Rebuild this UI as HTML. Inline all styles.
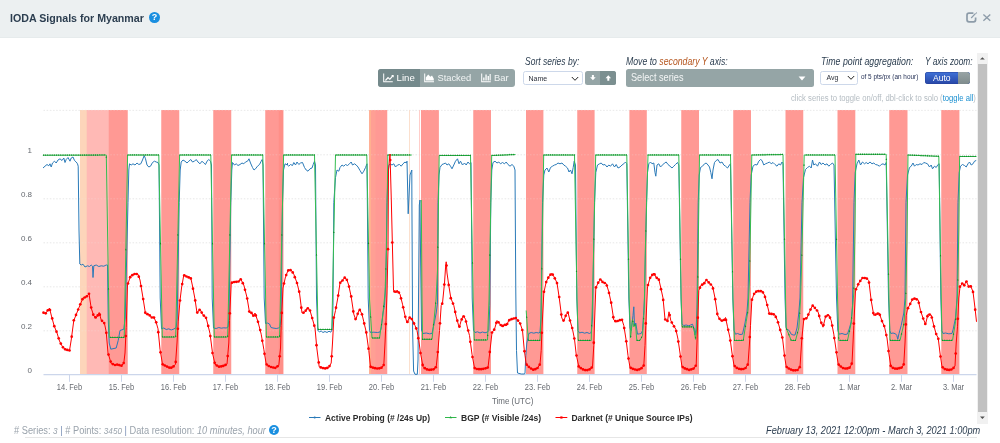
<!DOCTYPE html>
<html lang="en">
<head>
<meta charset="utf-8">
<title>IODA Signals for Myanmar</title>
<style>
html,body{margin:0;padding:0;}
body{width:1000px;height:443px;overflow:hidden;background:#fff;position:relative;font-family:"Liberation Sans",sans-serif;color:#2c3e50;}
.abs{position:absolute;white-space:nowrap;transform-origin:0 0;}
.hdr{position:absolute;left:0;top:0;width:1000px;height:37px;background:#ecf0f1;border-bottom:1px solid #e6ebec;box-sizing:content-box;}
.title{left:9.75px;top:11.7px;font-size:10.8px;font-weight:bold;line-height:13px;color:#2c3e50;}
.help{position:absolute;width:10.8px;height:10.8px;border-radius:50%;background:#1a8fe0;color:#fff;font-size:9px;font-weight:bold;line-height:11.2px;text-align:center;}
.it{font-style:italic;font-size:10px;line-height:12px;color:#2c3e50;}
.btn{position:absolute;background:#95a5a6;color:#fff;}
.chart{position:absolute;left:0;top:0;}
.sel{position:absolute;box-sizing:border-box;background:#fff;border:1px solid #cdd8ea;border-radius:2.5px;font-size:7px;line-height:12px;color:#2a2f3a;}
.hint{font-size:8.4px;color:#b4bcc2;line-height:10px;}
.hint a{color:#1a8fd0;text-decoration:none;}
.foot{font-size:10px;color:#9aa3ac;line-height:12px;}
.foot i{font-size:8.8px;}
.foot i.b{font-size:10px;}
</style>
</head>
<body>
<div class="hdr"></div>
<div class="abs title" id="title" style="transform:scaleX(0.986);">IODA Signals for Myanmar</div>
<div class="help" style="left:149.1px;top:11.9px;">?</div>
<!-- header right icons -->
<svg class="abs" style="left:960px;top:8px;" width="36" height="20" viewBox="960 8 36 20">
  <path d="M973.4 13.2 H969 Q967 13.2 967 15.2 V19.8 Q967 21.8 969 21.8 H973.6 Q975.6 21.8 975.6 19.8 V17.4" fill="none" stroke="#8d9ca9" stroke-width="1.7"/>
  <path d="M971.2 18 L975.6 13.4" stroke="#8d9ca9" stroke-width="1.2" fill="none"/>
  <circle cx="976.5" cy="12.9" r="0.6" fill="#8d9ca9"/>
  <path d="M983.4 14.4 L990.3 20.8 M990.3 14.4 L983.4 20.8" stroke="#8d9ca9" stroke-width="1.35" fill="none"/>
</svg>

<!-- chart -->
<svg class="chart" width="1000" height="443" viewBox="0 0 1000 443">
<g stroke="#e9e9e9" stroke-width="0.9" stroke-dasharray="1.5,1.68" stroke-opacity="1" fill="none">
<path d="M43.5 110.4 H976.5"/>
<path d="M43.5 154.8 H976.5"/>
<path d="M43.5 198.8 H976.5"/>
<path d="M43.5 242.8 H976.5"/>
<path d="M43.5 286.8 H976.5"/>
<path d="M43.5 330.8 H976.5"/>
</g>
<g>
<rect x="80.00" y="110.0" width="7.50" height="264.5" fill="#fdd5ba"/>
<rect x="86.75" y="110.0" width="22.75" height="264.5" fill="#ffb9b5"/>
<rect x="108.75" y="110.0" width="19.00" height="264.5" fill="#ff9994"/>
<rect x="161.25" y="110.0" width="18.00" height="264.5" fill="#ff9994"/>
<rect x="213.25" y="110.0" width="18.00" height="264.5" fill="#ff9994"/>
<rect x="265.25" y="110.0" width="18.00" height="264.5" fill="#ff9994"/>
<rect x="369.25" y="110.0" width="18.00" height="264.5" fill="#ff9994"/>
<rect x="421.00" y="110.0" width="17.90" height="264.5" fill="#ff9994"/>
<rect x="473.25" y="110.0" width="17.75" height="264.5" fill="#ff9994"/>
<rect x="526.00" y="110.0" width="17.40" height="264.5" fill="#ff9994"/>
<rect x="577.25" y="110.0" width="17.35" height="264.5" fill="#ff9994"/>
<rect x="629.40" y="110.0" width="17.40" height="264.5" fill="#ff9994"/>
<rect x="681.25" y="110.0" width="17.75" height="264.5" fill="#ff9994"/>
<rect x="733.25" y="110.0" width="17.75" height="264.5" fill="#ff9994"/>
<rect x="785.50" y="110.0" width="17.75" height="264.5" fill="#ff9994"/>
<rect x="837.50" y="110.0" width="17.80" height="264.5" fill="#ff9994"/>
<rect x="889.25" y="110.0" width="18.25" height="264.5" fill="#ff9994"/>
<rect x="941.25" y="110.0" width="18.15" height="264.5" fill="#ff9994"/>
<rect x="278.75" y="110.0" width="4.50" height="264.5" fill="#ff8f88"/>
<rect x="369.25" y="110.0" width="1.75" height="264.5" fill="#ffb08f"/>
<rect x="371.00" y="110.0" width="4.50" height="264.5" fill="#ff9f94"/>
<rect x="409.00" y="110.0" width="0.80" height="264.5" fill="#fbd9c2"/>
<rect x="419.20" y="110.0" width="0.70" height="264.5" fill="#ffb9b4"/>
</g>
<g stroke="#e9e9e9" stroke-width="0.9" stroke-dasharray="1.5,1.68" stroke-opacity="0.28" fill="none">
<path d="M43.5 110.4 H976.5"/>
<path d="M43.5 154.8 H976.5"/>
<path d="M43.5 198.8 H976.5"/>
<path d="M43.5 242.8 H976.5"/>
<path d="M43.5 286.8 H976.5"/>
<path d="M43.5 330.8 H976.5"/>
</g>
<path d="M43.5 374.7 H976.5" stroke="#ccd6eb" stroke-width="1.2" fill="none"/>
<g stroke="#ccd6eb" stroke-width="1" fill="none">
<path d="M69.5 375 V381.8"/>
<path d="M121.5 375 V381.8"/>
<path d="M173.5 375 V381.8"/>
<path d="M225.5 375 V381.8"/>
<path d="M277.5 375 V381.8"/>
<path d="M329.5 375 V381.8"/>
<path d="M381.5 375 V381.8"/>
<path d="M433.5 375 V381.8"/>
<path d="M485.5 375 V381.8"/>
<path d="M537.5 375 V381.8"/>
<path d="M589.5 375 V381.8"/>
<path d="M641.5 375 V381.8"/>
<path d="M693.5 375 V381.8"/>
<path d="M745.5 375 V381.8"/>
<path d="M797.5 375 V381.8"/>
<path d="M849.5 375 V381.8"/>
<path d="M901.5 375 V381.8"/>
<path d="M953.5 375 V381.8"/>
</g>
<path d="M43.0 168.0 L45.0 166.2 L47.0 164.5 L48.8 165.8 L50.0 163.8 L51.2 167.0 L52.5 163.0 L54.5 161.2 L56.2 163.0 L58.0 160.0 L60.0 158.8 L62.0 160.5 L63.8 158.0 L65.0 162.5 L66.2 159.5 L68.0 157.5 L70.0 161.2 L71.2 158.0 L73.0 157.0 L74.5 160.5 L76.2 162.0 L77.5 163.8 L78.2 166.2 L79.0 230.0 L79.8 264.0 L81.2 265.0 L83.0 264.2 L85.0 267.0 L87.5 265.8 L89.5 266.5 L91.2 265.0 L92.5 266.2 L93.0 277.5 L93.8 265.8 L96.2 265.0 L98.8 266.5 L101.2 265.8 L103.8 266.2 L106.2 265.0 L107.5 265.0 L108.2 318.0 L109.2 343.0 L110.8 349.2 L116.2 348.0 L118.2 340.5 L120.0 330.5 L123.8 329.2 L125.2 318.0 L128.0 202.5 L128.8 170.0 L129.5 163.8 L131.2 165.0 L133.0 163.8 L135.0 165.0 L137.0 163.0 L138.8 164.5 L140.8 163.8 L142.5 160.0 L144.2 155.5 L145.5 158.8 L147.0 165.0 L148.8 167.0 L150.5 166.2 L152.5 162.5 L154.5 161.2 L156.2 162.0 L158.0 162.5 L159.0 165.0 L160.2 298.0 L161.5 328.8 L163.8 328.0 L166.2 329.5 L168.8 328.8 L171.2 330.0 L173.8 329.0 L176.2 327.5 L177.2 318.0 L179.2 202.5 L180.2 170.0 L181.2 162.0 L183.0 160.0 L185.0 161.2 L187.0 163.0 L188.8 161.2 L190.8 159.5 L192.5 162.0 L194.5 161.2 L196.2 159.5 L198.0 162.0 L200.0 163.8 L202.0 161.2 L203.8 163.0 L205.5 164.5 L207.0 161.2 L208.8 159.5 L210.5 161.2 L211.5 165.0 L212.2 298.0 L213.5 328.0 L216.2 328.5 L218.8 327.5 L221.2 328.2 L223.8 327.8 L226.2 328.0 L228.0 327.0 L229.0 318.0 L230.8 202.5 L231.8 170.0 L232.5 162.5 L234.5 165.0 L236.2 163.8 L238.0 165.5 L240.0 164.5 L242.0 163.0 L243.8 163.8 L245.5 162.0 L247.5 161.2 L249.0 158.8 L250.5 163.0 L252.5 167.5 L254.0 170.0 L255.5 168.8 L257.5 166.2 L259.5 164.5 L261.2 161.2 L262.2 159.5 L263.0 165.0 L264.2 298.0 L265.5 323.5 L267.5 323.0 L269.5 324.0 L271.0 327.5 L273.0 328.0 L276.2 328.5 L278.8 328.0 L280.0 326.8 L281.0 318.0 L282.5 202.5 L283.5 170.0 L285.0 163.8 L287.5 165.0 L287.5 163.8 L287.5 163.0 L287.5 165.0 L288.8 166.2 L290.5 164.5 L292.5 165.5 L293.8 162.5 L295.5 165.0 L297.0 162.0 L298.8 164.5 L300.5 163.0 L302.5 162.5 L304.5 167.5 L306.2 170.0 L308.0 171.2 L310.0 168.8 L312.0 168.0 L313.2 164.5 L314.5 161.2 L315.5 165.0 L316.5 298.0 L317.8 330.5 L319.5 331.8 L321.2 331.0 L323.0 332.5 L325.0 331.5 L327.0 332.5 L329.0 331.2 L330.8 332.2 L332.0 330.0 L333.0 305.5 L333.8 202.5 L335.5 177.5 L337.0 170.0 L338.8 171.2 L340.0 167.5 L342.0 165.0 L343.8 166.2 L345.5 164.5 L347.5 165.5 L349.5 163.8 L351.2 162.0 L352.5 165.0 L354.5 163.8 L356.2 165.0 L358.0 167.0 L360.0 170.5 L362.0 173.8 L363.8 171.2 L365.5 167.5 L367.0 163.8 L368.2 298.0 L369.5 330.5 L370.5 332.5 L373.8 332.2 L377.5 332.5 L380.0 332.0 L381.2 328.0 L383.0 313.0 L384.5 305.5 L385.8 283.0 L387.0 202.5 L388.0 172.5 L389.0 165.0 L390.0 163.8 L392.0 165.0 L393.8 163.8 L395.5 167.0 L397.5 165.0 L399.5 164.5 L401.2 166.2 L403.0 163.8 L405.0 162.0 L406.2 163.0 L407.0 161.2 L408.2 213.8 L410.0 175.0 L411.8 170.0 L411.9 200.0 L412.6 330.0 L413.6 371.0 L415.0 374.3 L417.3 374.3 L418.0 360.0 L418.5 300.0 L419.3 205.0 L420.0 200.0 L420.6 260.0 L421.5 330.0 L423.0 333.5 L426.2 333.0 L429.5 333.8 L432.0 333.5 L434.5 321.8 L436.2 313.0 L437.5 303.0 L438.0 202.5 L439.0 175.0 L440.0 167.5 L442.0 164.5 L443.8 163.8 L445.5 163.0 L447.0 165.0 L448.8 163.8 L450.5 166.2 L452.0 168.8 L453.8 165.0 L455.5 161.2 L457.5 158.8 L459.0 163.8 L460.5 161.2 L462.5 165.0 L464.5 163.0 L466.2 165.0 L468.0 162.0 L469.5 163.8 L471.0 162.5 L472.2 298.0 L473.5 330.5 L475.0 332.5 L477.5 331.8 L480.0 333.0 L482.5 332.0 L485.0 332.8 L487.5 332.0 L488.8 330.5 L489.8 305.5 L490.8 202.5 L491.8 170.0 L493.0 162.5 L495.0 161.2 L497.0 163.0 L498.8 162.0 L500.5 163.8 L502.5 162.5 L504.5 163.8 L506.2 162.0 L508.0 164.5 L510.0 166.2 L512.0 164.5 L513.8 166.2 L515.0 170.0 L515.8 293.0 L516.5 350.5 L517.5 373.0 L521.2 374.0 L524.5 374.0 L525.0 373.0 L525.8 355.5 L526.8 343.0 L528.8 333.5 L531.2 332.5 L533.8 333.2 L536.2 332.5 L538.8 333.0 L540.0 332.2 L541.0 318.0 L542.5 202.5 L543.8 175.0 L545.0 170.0 L547.0 168.0 L548.8 172.0 L550.5 167.5 L552.5 166.2 L554.5 165.0 L556.2 164.5 L558.0 163.0 L560.0 163.8 L562.0 163.0 L563.8 165.0 L565.5 166.2 L567.5 168.0 L569.0 172.0 L570.5 170.0 L572.0 173.8 L573.2 167.5 L574.2 161.2 L575.5 165.0 L576.8 298.0 L578.0 330.5 L579.5 333.0 L582.0 332.2 L584.5 333.2 L587.0 332.5 L589.5 333.5 L591.2 332.5 L592.5 318.0 L594.5 202.5 L595.8 172.5 L597.5 165.0 L599.5 163.8 L601.2 163.0 L603.0 165.0 L605.0 164.5 L607.0 167.0 L608.8 165.0 L610.5 166.2 L612.5 163.8 L614.5 167.0 L616.2 164.5 L618.0 168.0 L620.0 167.0 L622.0 165.0 L623.8 163.8 L625.5 162.0 L626.8 163.8 L628.8 298.0 L630.0 328.0 L631.2 330.5 L633.0 315.5 L633.8 306.8 L634.5 325.5 L635.8 323.0 L637.5 334.2 L639.5 333.8 L641.2 333.5 L642.5 330.5 L643.5 315.5 L644.5 298.0 L646.5 202.5 L647.5 172.5 L648.8 163.8 L650.5 162.0 L652.0 163.8 L653.8 163.0 L655.0 172.5 L655.8 176.2 L657.0 165.0 L658.8 163.8 L660.5 167.0 L662.5 165.0 L664.5 163.0 L666.2 162.0 L668.0 164.5 L670.0 166.2 L672.0 168.0 L673.8 166.2 L675.5 164.5 L677.5 162.5 L678.8 165.0 L681.0 298.0 L682.0 324.2 L683.8 325.5 L686.2 325.0 L688.8 325.8 L690.5 325.0 L692.5 324.2 L693.8 328.0 L695.0 335.0 L696.2 328.0 L697.0 308.0 L698.2 202.5 L699.2 175.0 L700.5 167.5 L702.5 166.2 L704.5 163.8 L706.2 163.0 L708.0 165.0 L709.5 167.0 L710.8 172.5 L712.0 178.8 L713.0 170.0 L714.5 162.5 L716.2 160.5 L718.0 159.5 L720.0 163.0 L722.0 162.0 L723.8 165.0 L725.5 166.2 L727.5 168.0 L729.5 165.0 L730.5 163.8 L732.8 298.0 L734.0 330.5 L735.5 334.2 L737.5 333.5 L740.0 334.5 L742.5 334.2 L745.0 323.0 L747.0 311.8 L748.0 298.0 L750.0 202.5 L751.2 175.0 L753.0 166.2 L755.0 164.5 L757.0 165.0 L758.8 161.2 L760.5 159.5 L762.0 160.5 L763.8 165.0 L765.5 163.8 L767.5 163.0 L769.5 162.0 L771.2 163.8 L773.0 162.5 L775.0 164.5 L777.0 166.2 L778.8 163.8 L780.5 165.0 L782.0 162.0 L783.0 163.8 L785.0 298.0 L786.0 326.8 L786.8 329.2 L789.2 330.5 L791.2 334.2 L793.2 335.0 L795.0 335.0 L797.0 328.0 L798.8 313.0 L800.0 298.0 L802.0 202.5 L803.5 177.5 L805.5 169.5 L807.5 167.5 L809.5 166.2 L811.2 168.0 L812.5 160.0 L813.8 165.0 L815.5 163.8 L817.5 166.2 L819.5 162.0 L821.2 164.5 L823.0 163.0 L825.0 165.0 L827.0 163.8 L828.8 166.2 L830.5 164.5 L832.5 163.0 L834.0 165.0 L836.5 298.0 L837.8 330.5 L839.2 334.2 L842.0 333.5 L845.0 334.5 L847.5 334.0 L849.5 328.0 L851.2 321.8 L852.5 305.5 L854.0 202.5 L855.2 172.5 L857.0 163.8 L858.8 160.0 L860.5 165.0 L862.5 162.0 L864.5 163.8 L866.2 162.5 L868.0 163.8 L870.0 162.0 L872.0 163.8 L873.8 163.0 L875.5 164.5 L877.5 165.0 L879.5 166.2 L881.2 164.5 L883.0 163.8 L885.0 165.0 L886.2 162.5 L888.5 298.0 L889.8 330.5 L890.8 333.5 L893.0 333.0 L895.5 333.8 L896.8 335.5 L897.8 339.2 L899.0 333.5 L901.2 325.5 L903.8 313.0 L905.0 298.0 L906.0 202.5 L907.5 175.0 L909.5 167.5 L911.2 166.2 L913.0 163.0 L914.5 166.2 L916.2 164.5 L918.0 165.0 L920.0 163.8 L922.0 164.5 L923.8 162.5 L925.5 163.0 L927.5 163.8 L929.5 167.0 L931.2 165.0 L932.5 168.8 L934.5 166.2 L936.2 167.5 L938.0 164.5 L939.2 163.8 L940.8 298.0 L941.8 330.5 L943.0 333.5 L945.5 333.0 L948.8 333.8 L952.0 333.5 L953.2 329.2 L955.5 318.0 L957.0 298.0 L958.0 202.5 L959.2 172.5 L960.5 166.2 L962.5 164.5 L964.5 165.5 L966.2 167.0 L968.0 163.8 L969.5 162.0 L971.2 165.0 L973.0 163.8 L974.5 161.2 L976.2 160.5" fill="none" stroke="#2a7ab8" stroke-width="1" stroke-linejoin="round"/>
<path d="M43.0 155.2 L106.3 155.0 L109.3 337.5 L124.2 337.5 L127.6 155.0 L158.8 155.0 L162.3 337.0 L175.7 337.0 L179.6 155.0 L210.8 155.0 L214.3 337.0 L227.7 337.0 L231.6 155.0 L262.8 155.0 L266.4 337.0 L279.6 337.0 L283.6 155.0 L314.5 155.0 L318.0 329.5 L331.8 329.5 L335.5 155.0 L366.8 155.0 L369.6 300.0 L372.0 338.0 L379.5 338.0 L382.5 318.0 L385.0 293.0 L386.5 250.0 L387.8 155.0 L411.8 155.0" fill="none" stroke="#35bd50" stroke-width="1" stroke-linejoin="round"/>
<path d="M421.3 200.0 L422.0 300.0 L422.6 339.3 L432.0 339.3 L434.0 320.0 L436.0 300.0 L437.5 270.0 L439.2 155.5 L470.5 155.5 L473.2 300.0 L474.3 340.0 L487.5 340.0 L489.0 300.0 L491.7 155.5 L515.5 154.5" fill="none" stroke="#35bd50" stroke-width="1" stroke-linejoin="round"/>
<path d="M526.2 310.5 L527.5 330.0 L528.6 340.5 L540.0 340.5 L541.0 320.0 L543.7 155.0 L574.5 155.0 L577.0 300.0 L578.2 340.5 L591.2 340.5 L592.5 300.0 L595.7 155.0 L626.8 155.0 L629.2 300.0 L630.5 338.0 L632.5 319.3 L633.8 326.8 L635.5 324.3 L636.8 340.5 L640.0 340.5 L642.5 335.5 L644.2 310.5 L645.3 250.0 L648.0 155.0 L678.8 155.0 L681.2 300.0 L682.0 326.8 L692.5 326.8 L693.8 328.0 L695.5 339.3 L696.8 328.0 L697.8 280.0 L699.5 155.0 L730.5 155.0 L733.0 300.0 L734.5 340.5 L743.2 340.5 L746.2 321.8 L748.0 310.5 L749.5 280.0 L751.8 155.0 L783.0 154.5 L785.6 300.0 L786.2 328.0 L788.8 334.3 L791.2 340.5 L795.5 340.5 L798.8 328.0 L800.5 300.0 L802.0 250.0 L804.2 155.0 L835.0 155.0 L837.6 300.0 L838.8 340.5 L847.5 340.5 L851.2 323.0 L853.8 293.0 L855.0 230.0 L855.8 154.3 L886.2 154.3 L889.0 300.0 L890.0 340.5 L900.0 340.5 L903.8 324.3 L905.8 298.0 L907.0 240.0 L908.0 155.0 L938.8 156.3 L941.3 300.0 L942.0 340.5 L952.5 340.5 L955.5 321.8 L957.6 293.0 L958.8 230.0 L959.6 156.5 L976.5 156.5" fill="none" stroke="#35bd50" stroke-width="1" stroke-linejoin="round"/>
<path d="M43.50 154.00 l0.8 1.8 h-1.6zM45.67 153.99 l0.8 1.8 h-1.6zM47.83 153.98 l0.8 1.8 h-1.6zM50.00 153.98 l0.8 1.8 h-1.6zM52.17 153.97 l0.8 1.8 h-1.6zM54.33 153.96 l0.8 1.8 h-1.6zM56.50 153.96 l0.8 1.8 h-1.6zM58.67 153.95 l0.8 1.8 h-1.6zM60.83 153.94 l0.8 1.8 h-1.6zM63.00 153.94 l0.8 1.8 h-1.6zM65.17 153.93 l0.8 1.8 h-1.6zM67.33 153.92 l0.8 1.8 h-1.6zM69.50 153.92 l0.8 1.8 h-1.6zM71.67 153.91 l0.8 1.8 h-1.6zM73.83 153.90 l0.8 1.8 h-1.6zM76.00 153.90 l0.8 1.8 h-1.6zM78.17 153.89 l0.8 1.8 h-1.6zM80.33 153.88 l0.8 1.8 h-1.6zM82.50 153.88 l0.8 1.8 h-1.6zM84.67 153.87 l0.8 1.8 h-1.6zM86.83 153.86 l0.8 1.8 h-1.6zM89.00 153.85 l0.8 1.8 h-1.6zM91.17 153.85 l0.8 1.8 h-1.6zM93.33 153.84 l0.8 1.8 h-1.6zM95.50 153.83 l0.8 1.8 h-1.6zM97.67 153.83 l0.8 1.8 h-1.6zM99.83 153.82 l0.8 1.8 h-1.6zM102.00 153.81 l0.8 1.8 h-1.6zM104.17 153.81 l0.8 1.8 h-1.6zM106.33 155.89 l0.8 1.8 h-1.6zM108.50 287.69 l0.8 1.8 h-1.6zM110.67 336.30 l0.8 1.8 h-1.6zM112.83 336.30 l0.8 1.8 h-1.6zM115.00 336.30 l0.8 1.8 h-1.6zM117.17 336.30 l0.8 1.8 h-1.6zM119.33 336.30 l0.8 1.8 h-1.6zM121.50 336.30 l0.8 1.8 h-1.6zM123.67 336.30 l0.8 1.8 h-1.6zM125.83 248.56 l0.8 1.8 h-1.6zM128.00 153.80 l0.8 1.8 h-1.6zM130.17 153.80 l0.8 1.8 h-1.6zM132.33 153.80 l0.8 1.8 h-1.6zM134.50 153.80 l0.8 1.8 h-1.6zM136.67 153.80 l0.8 1.8 h-1.6zM138.83 153.80 l0.8 1.8 h-1.6zM141.00 153.80 l0.8 1.8 h-1.6zM143.17 153.80 l0.8 1.8 h-1.6zM145.33 153.80 l0.8 1.8 h-1.6zM147.50 153.80 l0.8 1.8 h-1.6zM149.67 153.80 l0.8 1.8 h-1.6zM151.84 153.80 l0.8 1.8 h-1.6zM154.00 153.80 l0.8 1.8 h-1.6zM156.17 153.80 l0.8 1.8 h-1.6zM158.34 153.80 l0.8 1.8 h-1.6zM160.50 242.36 l0.8 1.8 h-1.6zM162.67 335.80 l0.8 1.8 h-1.6zM164.84 335.80 l0.8 1.8 h-1.6zM167.00 335.80 l0.8 1.8 h-1.6zM169.17 335.80 l0.8 1.8 h-1.6zM171.34 335.80 l0.8 1.8 h-1.6zM173.50 335.80 l0.8 1.8 h-1.6zM175.67 334.93 l0.8 1.8 h-1.6zM177.84 233.81 l0.8 1.8 h-1.6zM180.00 153.80 l0.8 1.8 h-1.6zM182.17 153.80 l0.8 1.8 h-1.6zM184.34 153.80 l0.8 1.8 h-1.6zM186.50 153.80 l0.8 1.8 h-1.6zM188.67 153.80 l0.8 1.8 h-1.6zM190.84 153.80 l0.8 1.8 h-1.6zM193.00 153.80 l0.8 1.8 h-1.6zM195.17 153.80 l0.8 1.8 h-1.6zM197.34 153.80 l0.8 1.8 h-1.6zM199.50 153.80 l0.8 1.8 h-1.6zM201.67 153.80 l0.8 1.8 h-1.6zM203.84 153.80 l0.8 1.8 h-1.6zM206.00 153.80 l0.8 1.8 h-1.6zM208.17 153.80 l0.8 1.8 h-1.6zM210.34 153.80 l0.8 1.8 h-1.6zM212.50 242.40 l0.8 1.8 h-1.6zM214.67 335.80 l0.8 1.8 h-1.6zM216.84 335.80 l0.8 1.8 h-1.6zM219.00 335.80 l0.8 1.8 h-1.6zM221.17 335.80 l0.8 1.8 h-1.6zM223.34 335.80 l0.8 1.8 h-1.6zM225.50 335.80 l0.8 1.8 h-1.6zM227.67 334.89 l0.8 1.8 h-1.6zM229.84 233.78 l0.8 1.8 h-1.6zM232.00 153.80 l0.8 1.8 h-1.6zM234.17 153.80 l0.8 1.8 h-1.6zM236.34 153.80 l0.8 1.8 h-1.6zM238.50 153.80 l0.8 1.8 h-1.6zM240.67 153.80 l0.8 1.8 h-1.6zM242.84 153.80 l0.8 1.8 h-1.6zM245.00 153.80 l0.8 1.8 h-1.6zM247.17 153.80 l0.8 1.8 h-1.6zM249.34 153.80 l0.8 1.8 h-1.6zM251.50 153.80 l0.8 1.8 h-1.6zM253.67 153.80 l0.8 1.8 h-1.6zM255.84 153.80 l0.8 1.8 h-1.6zM258.00 153.80 l0.8 1.8 h-1.6zM260.17 153.80 l0.8 1.8 h-1.6zM262.34 153.80 l0.8 1.8 h-1.6zM264.50 242.44 l0.8 1.8 h-1.6zM266.67 335.80 l0.8 1.8 h-1.6zM268.84 335.80 l0.8 1.8 h-1.6zM271.00 335.80 l0.8 1.8 h-1.6zM273.17 335.80 l0.8 1.8 h-1.6zM275.34 335.80 l0.8 1.8 h-1.6zM277.50 335.80 l0.8 1.8 h-1.6zM279.67 334.85 l0.8 1.8 h-1.6zM281.84 233.74 l0.8 1.8 h-1.6zM284.00 153.80 l0.8 1.8 h-1.6zM286.17 153.80 l0.8 1.8 h-1.6zM288.34 153.80 l0.8 1.8 h-1.6zM290.50 153.80 l0.8 1.8 h-1.6zM292.67 153.80 l0.8 1.8 h-1.6zM294.84 153.80 l0.8 1.8 h-1.6zM297.00 153.80 l0.8 1.8 h-1.6zM299.17 153.80 l0.8 1.8 h-1.6zM301.34 153.80 l0.8 1.8 h-1.6zM303.50 153.80 l0.8 1.8 h-1.6zM305.67 153.80 l0.8 1.8 h-1.6zM307.84 153.80 l0.8 1.8 h-1.6zM310.00 153.80 l0.8 1.8 h-1.6zM312.17 153.80 l0.8 1.8 h-1.6zM314.34 153.80 l0.8 1.8 h-1.6zM316.50 253.72 l0.8 1.8 h-1.6zM318.67 328.30 l0.8 1.8 h-1.6zM320.84 328.30 l0.8 1.8 h-1.6zM323.00 328.30 l0.8 1.8 h-1.6zM325.17 328.30 l0.8 1.8 h-1.6zM327.34 328.30 l0.8 1.8 h-1.6zM329.50 328.30 l0.8 1.8 h-1.6zM331.67 328.30 l0.8 1.8 h-1.6zM333.84 231.15 l0.8 1.8 h-1.6zM336.00 153.80 l0.8 1.8 h-1.6zM338.17 153.80 l0.8 1.8 h-1.6zM340.34 153.80 l0.8 1.8 h-1.6zM342.50 153.80 l0.8 1.8 h-1.6zM344.67 153.80 l0.8 1.8 h-1.6zM346.84 153.80 l0.8 1.8 h-1.6zM349.00 153.80 l0.8 1.8 h-1.6zM351.17 153.80 l0.8 1.8 h-1.6zM353.34 153.80 l0.8 1.8 h-1.6zM355.50 153.80 l0.8 1.8 h-1.6zM357.67 153.80 l0.8 1.8 h-1.6zM359.84 153.80 l0.8 1.8 h-1.6zM362.00 153.80 l0.8 1.8 h-1.6zM364.17 153.80 l0.8 1.8 h-1.6zM366.34 153.80 l0.8 1.8 h-1.6zM368.50 242.09 l0.8 1.8 h-1.6zM370.67 315.77 l0.8 1.8 h-1.6zM372.84 336.80 l0.8 1.8 h-1.6zM375.01 336.80 l0.8 1.8 h-1.6zM377.17 336.80 l0.8 1.8 h-1.6zM379.34 336.80 l0.8 1.8 h-1.6zM381.51 323.43 l0.8 1.8 h-1.6zM383.67 305.08 l0.8 1.8 h-1.6zM385.84 267.76 l0.8 1.8 h-1.6zM388.01 153.80 l0.8 1.8 h-1.6zM390.17 153.80 l0.8 1.8 h-1.6zM392.34 153.80 l0.8 1.8 h-1.6zM394.51 153.80 l0.8 1.8 h-1.6zM396.67 153.80 l0.8 1.8 h-1.6zM398.84 153.80 l0.8 1.8 h-1.6zM401.01 153.80 l0.8 1.8 h-1.6zM403.17 153.80 l0.8 1.8 h-1.6zM405.34 153.80 l0.8 1.8 h-1.6zM407.51 153.80 l0.8 1.8 h-1.6zM409.67 153.80 l0.8 1.8 h-1.6zM422.67 338.10 l0.8 1.8 h-1.6zM424.84 338.10 l0.8 1.8 h-1.6zM427.01 338.10 l0.8 1.8 h-1.6zM429.17 338.10 l0.8 1.8 h-1.6zM431.34 338.10 l0.8 1.8 h-1.6zM433.51 323.57 l0.8 1.8 h-1.6zM435.67 302.07 l0.8 1.8 h-1.6zM437.84 245.94 l0.8 1.8 h-1.6zM440.01 154.30 l0.8 1.8 h-1.6zM442.17 154.30 l0.8 1.8 h-1.6zM444.34 154.30 l0.8 1.8 h-1.6zM446.51 154.30 l0.8 1.8 h-1.6zM448.67 154.30 l0.8 1.8 h-1.6zM450.84 154.30 l0.8 1.8 h-1.6zM453.01 154.30 l0.8 1.8 h-1.6zM455.17 154.30 l0.8 1.8 h-1.6zM457.34 154.30 l0.8 1.8 h-1.6zM459.51 154.30 l0.8 1.8 h-1.6zM461.67 154.30 l0.8 1.8 h-1.6zM463.84 154.30 l0.8 1.8 h-1.6zM466.01 154.30 l0.8 1.8 h-1.6zM468.17 154.30 l0.8 1.8 h-1.6zM470.34 154.30 l0.8 1.8 h-1.6zM472.51 261.69 l0.8 1.8 h-1.6zM474.67 338.80 l0.8 1.8 h-1.6zM476.84 338.80 l0.8 1.8 h-1.6zM479.01 338.80 l0.8 1.8 h-1.6zM481.17 338.80 l0.8 1.8 h-1.6zM483.34 338.80 l0.8 1.8 h-1.6zM485.51 338.80 l0.8 1.8 h-1.6zM487.67 334.17 l0.8 1.8 h-1.6zM489.84 253.83 l0.8 1.8 h-1.6zM492.01 154.29 l0.8 1.8 h-1.6zM494.17 154.20 l0.8 1.8 h-1.6zM496.34 154.11 l0.8 1.8 h-1.6zM498.51 154.01 l0.8 1.8 h-1.6zM500.67 153.92 l0.8 1.8 h-1.6zM502.84 153.83 l0.8 1.8 h-1.6zM505.01 153.74 l0.8 1.8 h-1.6zM507.17 153.65 l0.8 1.8 h-1.6zM509.34 153.56 l0.8 1.8 h-1.6zM511.51 153.47 l0.8 1.8 h-1.6zM513.67 153.38 l0.8 1.8 h-1.6zM526.67 315.92 l0.8 1.8 h-1.6zM528.84 339.30 l0.8 1.8 h-1.6zM531.01 339.30 l0.8 1.8 h-1.6zM533.17 339.30 l0.8 1.8 h-1.6zM535.34 339.30 l0.8 1.8 h-1.6zM537.51 339.30 l0.8 1.8 h-1.6zM539.67 339.30 l0.8 1.8 h-1.6zM541.84 267.41 l0.8 1.8 h-1.6zM544.01 153.80 l0.8 1.8 h-1.6zM546.17 153.80 l0.8 1.8 h-1.6zM548.34 153.80 l0.8 1.8 h-1.6zM550.51 153.80 l0.8 1.8 h-1.6zM552.67 153.80 l0.8 1.8 h-1.6zM554.84 153.80 l0.8 1.8 h-1.6zM557.01 153.80 l0.8 1.8 h-1.6zM559.17 153.80 l0.8 1.8 h-1.6zM561.34 153.80 l0.8 1.8 h-1.6zM563.51 153.80 l0.8 1.8 h-1.6zM565.67 153.80 l0.8 1.8 h-1.6zM567.84 153.80 l0.8 1.8 h-1.6zM570.01 153.80 l0.8 1.8 h-1.6zM572.17 153.80 l0.8 1.8 h-1.6zM574.34 153.80 l0.8 1.8 h-1.6zM576.51 270.28 l0.8 1.8 h-1.6zM578.67 339.30 l0.8 1.8 h-1.6zM580.84 339.30 l0.8 1.8 h-1.6zM583.01 339.30 l0.8 1.8 h-1.6zM585.17 339.30 l0.8 1.8 h-1.6zM587.34 339.30 l0.8 1.8 h-1.6zM589.51 339.30 l0.8 1.8 h-1.6zM591.68 324.50 l0.8 1.8 h-1.6zM593.84 238.00 l0.8 1.8 h-1.6zM596.01 153.80 l0.8 1.8 h-1.6zM598.18 153.80 l0.8 1.8 h-1.6zM600.34 153.80 l0.8 1.8 h-1.6zM602.51 153.80 l0.8 1.8 h-1.6zM604.68 153.80 l0.8 1.8 h-1.6zM606.84 153.80 l0.8 1.8 h-1.6zM609.01 153.80 l0.8 1.8 h-1.6zM611.18 153.80 l0.8 1.8 h-1.6zM613.34 153.80 l0.8 1.8 h-1.6zM615.51 153.80 l0.8 1.8 h-1.6zM617.68 153.80 l0.8 1.8 h-1.6zM619.84 153.80 l0.8 1.8 h-1.6zM622.01 153.80 l0.8 1.8 h-1.6zM624.18 153.80 l0.8 1.8 h-1.6zM626.34 153.80 l0.8 1.8 h-1.6zM628.51 257.90 l0.8 1.8 h-1.6zM630.68 335.16 l0.8 1.8 h-1.6zM632.84 320.15 l0.8 1.8 h-1.6zM635.01 323.80 l0.8 1.8 h-1.6zM637.18 339.30 l0.8 1.8 h-1.6zM639.34 339.30 l0.8 1.8 h-1.6zM641.51 336.28 l0.8 1.8 h-1.6zM643.68 317.50 l0.8 1.8 h-1.6zM645.84 229.71 l0.8 1.8 h-1.6zM648.01 153.80 l0.8 1.8 h-1.6zM650.18 153.80 l0.8 1.8 h-1.6zM652.34 153.80 l0.8 1.8 h-1.6zM654.51 153.80 l0.8 1.8 h-1.6zM656.68 153.80 l0.8 1.8 h-1.6zM658.84 153.80 l0.8 1.8 h-1.6zM661.01 153.80 l0.8 1.8 h-1.6zM663.18 153.80 l0.8 1.8 h-1.6zM665.34 153.80 l0.8 1.8 h-1.6zM667.51 153.80 l0.8 1.8 h-1.6zM669.68 153.80 l0.8 1.8 h-1.6zM671.84 153.80 l0.8 1.8 h-1.6zM674.01 153.80 l0.8 1.8 h-1.6zM676.18 153.80 l0.8 1.8 h-1.6zM678.34 153.80 l0.8 1.8 h-1.6zM680.51 257.95 l0.8 1.8 h-1.6zM682.68 325.60 l0.8 1.8 h-1.6zM684.84 325.60 l0.8 1.8 h-1.6zM687.01 325.60 l0.8 1.8 h-1.6zM689.18 325.60 l0.8 1.8 h-1.6zM691.34 325.60 l0.8 1.8 h-1.6zM693.51 326.57 l0.8 1.8 h-1.6zM695.68 336.50 l0.8 1.8 h-1.6zM697.84 275.61 l0.8 1.8 h-1.6zM700.01 153.80 l0.8 1.8 h-1.6zM702.18 153.80 l0.8 1.8 h-1.6zM704.34 153.80 l0.8 1.8 h-1.6zM706.51 153.80 l0.8 1.8 h-1.6zM708.68 153.80 l0.8 1.8 h-1.6zM710.84 153.80 l0.8 1.8 h-1.6zM713.01 153.80 l0.8 1.8 h-1.6zM715.18 153.80 l0.8 1.8 h-1.6zM717.34 153.80 l0.8 1.8 h-1.6zM719.51 153.80 l0.8 1.8 h-1.6zM721.68 153.80 l0.8 1.8 h-1.6zM723.84 153.80 l0.8 1.8 h-1.6zM726.01 153.80 l0.8 1.8 h-1.6zM728.18 153.80 l0.8 1.8 h-1.6zM730.34 153.80 l0.8 1.8 h-1.6zM732.51 270.41 l0.8 1.8 h-1.6zM734.68 339.30 l0.8 1.8 h-1.6zM736.84 339.30 l0.8 1.8 h-1.6zM739.01 339.30 l0.8 1.8 h-1.6zM741.18 339.30 l0.8 1.8 h-1.6zM743.34 338.71 l0.8 1.8 h-1.6zM745.51 325.21 l0.8 1.8 h-1.6zM747.68 311.38 l0.8 1.8 h-1.6zM749.84 259.68 l0.8 1.8 h-1.6zM752.01 153.80 l0.8 1.8 h-1.6zM754.18 153.76 l0.8 1.8 h-1.6zM756.34 153.73 l0.8 1.8 h-1.6zM758.51 153.69 l0.8 1.8 h-1.6zM760.68 153.66 l0.8 1.8 h-1.6zM762.84 153.62 l0.8 1.8 h-1.6zM765.01 153.59 l0.8 1.8 h-1.6zM767.18 153.55 l0.8 1.8 h-1.6zM769.34 153.52 l0.8 1.8 h-1.6zM771.51 153.48 l0.8 1.8 h-1.6zM773.68 153.45 l0.8 1.8 h-1.6zM775.84 153.41 l0.8 1.8 h-1.6zM778.01 153.38 l0.8 1.8 h-1.6zM780.18 153.35 l0.8 1.8 h-1.6zM782.34 153.31 l0.8 1.8 h-1.6zM784.51 237.88 l0.8 1.8 h-1.6zM786.68 327.88 l0.8 1.8 h-1.6zM788.84 333.34 l0.8 1.8 h-1.6zM791.01 338.71 l0.8 1.8 h-1.6zM793.18 339.30 l0.8 1.8 h-1.6zM795.34 339.30 l0.8 1.8 h-1.6zM797.51 331.56 l0.8 1.8 h-1.6zM799.68 311.95 l0.8 1.8 h-1.6zM801.84 253.97 l0.8 1.8 h-1.6zM804.01 163.86 l0.8 1.8 h-1.6zM806.18 153.80 l0.8 1.8 h-1.6zM808.35 153.80 l0.8 1.8 h-1.6zM810.51 153.80 l0.8 1.8 h-1.6zM812.68 153.80 l0.8 1.8 h-1.6zM814.85 153.80 l0.8 1.8 h-1.6zM817.01 153.80 l0.8 1.8 h-1.6zM819.18 153.80 l0.8 1.8 h-1.6zM821.35 153.80 l0.8 1.8 h-1.6zM823.51 153.80 l0.8 1.8 h-1.6zM825.68 153.80 l0.8 1.8 h-1.6zM827.85 153.80 l0.8 1.8 h-1.6zM830.01 153.80 l0.8 1.8 h-1.6zM832.18 153.80 l0.8 1.8 h-1.6zM834.35 153.80 l0.8 1.8 h-1.6zM836.51 238.13 l0.8 1.8 h-1.6zM838.68 336.80 l0.8 1.8 h-1.6zM840.85 339.30 l0.8 1.8 h-1.6zM843.01 339.30 l0.8 1.8 h-1.6zM845.18 339.30 l0.8 1.8 h-1.6zM847.35 339.30 l0.8 1.8 h-1.6zM849.51 329.91 l0.8 1.8 h-1.6zM851.68 316.65 l0.8 1.8 h-1.6zM853.85 286.97 l0.8 1.8 h-1.6zM856.01 153.10 l0.8 1.8 h-1.6zM858.18 153.10 l0.8 1.8 h-1.6zM860.35 153.10 l0.8 1.8 h-1.6zM862.51 153.10 l0.8 1.8 h-1.6zM864.68 153.10 l0.8 1.8 h-1.6zM866.85 153.10 l0.8 1.8 h-1.6zM869.01 153.10 l0.8 1.8 h-1.6zM871.18 153.10 l0.8 1.8 h-1.6zM873.35 153.10 l0.8 1.8 h-1.6zM875.51 153.10 l0.8 1.8 h-1.6zM877.68 153.10 l0.8 1.8 h-1.6zM879.85 153.10 l0.8 1.8 h-1.6zM882.01 153.10 l0.8 1.8 h-1.6zM884.18 153.10 l0.8 1.8 h-1.6zM886.35 158.20 l0.8 1.8 h-1.6zM888.51 273.00 l0.8 1.8 h-1.6zM890.68 339.30 l0.8 1.8 h-1.6zM892.85 339.30 l0.8 1.8 h-1.6zM895.01 339.30 l0.8 1.8 h-1.6zM897.18 339.30 l0.8 1.8 h-1.6zM899.35 339.30 l0.8 1.8 h-1.6zM901.51 332.76 l0.8 1.8 h-1.6zM903.68 323.40 l0.8 1.8 h-1.6zM905.85 292.32 l0.8 1.8 h-1.6zM908.01 153.80 l0.8 1.8 h-1.6zM910.18 153.89 l0.8 1.8 h-1.6zM912.35 153.98 l0.8 1.8 h-1.6zM914.51 154.08 l0.8 1.8 h-1.6zM916.68 154.17 l0.8 1.8 h-1.6zM918.85 154.26 l0.8 1.8 h-1.6zM921.01 154.35 l0.8 1.8 h-1.6zM923.18 154.44 l0.8 1.8 h-1.6zM925.35 154.53 l0.8 1.8 h-1.6zM927.51 154.62 l0.8 1.8 h-1.6zM929.68 154.72 l0.8 1.8 h-1.6zM931.85 154.81 l0.8 1.8 h-1.6zM934.01 154.90 l0.8 1.8 h-1.6zM936.18 154.99 l0.8 1.8 h-1.6zM938.35 155.08 l0.8 1.8 h-1.6zM940.51 254.50 l0.8 1.8 h-1.6zM942.68 339.30 l0.8 1.8 h-1.6zM944.85 339.30 l0.8 1.8 h-1.6zM947.01 339.30 l0.8 1.8 h-1.6zM949.18 339.30 l0.8 1.8 h-1.6zM951.35 339.30 l0.8 1.8 h-1.6zM953.51 332.98 l0.8 1.8 h-1.6zM955.68 318.12 l0.8 1.8 h-1.6zM957.85 278.81 l0.8 1.8 h-1.6zM960.01 155.30 l0.8 1.8 h-1.6zM962.18 155.30 l0.8 1.8 h-1.6zM964.35 155.30 l0.8 1.8 h-1.6zM966.51 155.30 l0.8 1.8 h-1.6zM968.68 155.30 l0.8 1.8 h-1.6zM970.85 155.30 l0.8 1.8 h-1.6zM973.01 155.30 l0.8 1.8 h-1.6zM975.18 155.30 l0.8 1.8 h-1.6z" fill="#0c8a28" stroke="none"/>
<path d="M43.0 312.5 L45.5 313.5 L49.5 308.0 L51.2 315.0 L54.2 326.0 L57.0 333.0 L59.5 341.0 L62.5 346.8 L65.0 349.2 L69.5 350.5 L71.2 340.0 L73.8 320.5 L76.8 313.0 L78.8 308.0 L83.0 298.0 L86.2 297.0 L89.0 293.8 L91.2 308.0 L93.8 316.0 L96.2 318.0 L99.2 312.5 L101.2 320.0 L104.5 323.5 L106.2 331.8 L108.0 353.0 L111.2 363.5 L115.0 365.0 L118.0 364.5 L121.2 366.0 L123.8 363.0 L125.0 353.0 L126.2 327.5 L127.5 285.0 L130.5 276.2 L135.0 273.8 L138.0 274.2 L140.0 280.0 L143.0 298.0 L145.5 313.8 L148.8 314.5 L151.8 317.5 L153.8 317.0 L156.2 322.5 L158.0 328.8 L160.0 349.2 L162.5 364.2 L166.2 366.2 L170.0 368.0 L172.5 367.5 L175.5 364.2 L177.0 343.0 L178.2 321.8 L180.0 300.5 L181.5 288.0 L183.8 275.0 L187.5 277.0 L190.8 278.0 L192.5 286.0 L195.0 299.2 L197.0 313.0 L200.0 309.2 L202.5 314.2 L206.2 318.0 L210.0 333.5 L212.5 353.0 L215.0 364.2 L218.8 366.8 L222.5 366.2 L227.0 364.2 L228.8 343.0 L229.5 320.5 L231.2 283.0 L235.0 281.8 L238.2 281.8 L240.8 279.2 L243.8 285.0 L247.0 297.5 L249.5 312.5 L252.0 313.0 L253.0 316.8 L255.0 313.0 L258.0 321.8 L261.2 334.2 L263.8 349.2 L266.2 364.2 L270.0 366.8 L275.0 368.0 L278.8 365.5 L280.5 348.0 L281.2 325.5 L283.0 288.0 L285.5 276.8 L288.0 270.5 L291.2 270.0 L293.8 274.2 L297.0 283.0 L299.5 293.0 L302.0 313.0 L304.5 312.5 L307.5 308.0 L310.0 310.5 L312.5 319.2 L315.0 328.0 L316.8 348.0 L319.2 366.8 L322.5 368.0 L325.5 368.5 L328.8 367.5 L331.2 363.0 L332.5 343.0 L333.8 318.0 L335.5 310.5 L338.0 296.8 L340.0 283.0 L342.5 280.5 L344.5 277.5 L347.0 280.0 L348.8 285.5 L351.2 296.8 L353.8 314.2 L355.8 319.8 L357.5 314.2 L359.5 309.2 L362.0 314.2 L363.8 321.8 L366.2 331.8 L368.8 350.5 L370.5 366.8 L373.8 368.0 L377.5 368.5 L381.2 368.0 L383.8 365.0 L385.0 343.0 L386.0 320.5 L387.0 293.0 L388.0 250.0 L388.5 170.0 L390.0 154.0 L391.3 200.0 L393.5 290.0 L395.5 293.0 L397.5 290.5 L400.0 294.2 L402.5 304.2 L405.0 315.5 L407.0 323.0 L409.5 317.5 L412.0 319.2 L415.0 325.5 L417.0 330.5 L418.8 340.5 L420.5 353.0 L423.0 366.8 L426.2 369.2 L430.0 370.0 L433.8 369.2 L436.2 366.8 L438.0 350.5 L439.5 330.5 L441.2 305.5 L442.5 303.0 L444.5 283.0 L445.5 268.0 L446.2 261.8 L447.0 273.0 L448.8 285.5 L450.8 298.0 L453.8 305.5 L456.2 316.8 L459.2 327.5 L461.2 320.5 L463.2 315.5 L465.5 319.2 L467.5 328.0 L469.5 335.5 L472.0 354.2 L474.5 368.0 L477.5 369.2 L481.2 369.2 L485.0 368.5 L488.0 367.5 L490.0 350.5 L492.0 332.5 L494.5 329.2 L497.0 320.5 L499.5 323.5 L502.0 326.8 L504.5 324.2 L506.2 326.0 L508.8 320.5 L512.5 318.8 L516.2 318.0 L518.8 321.8 L520.0 323.0 L522.5 330.5 L524.2 349.2 L526.2 364.2 L530.0 368.0 L533.8 370.0 L537.5 368.0 L540.0 364.2 L541.2 350.5 L542.0 328.0 L543.8 293.0 L546.2 281.8 L549.5 275.5 L552.0 273.5 L554.5 277.5 L557.0 283.0 L559.2 297.5 L561.8 318.0 L563.8 321.0 L566.2 314.2 L568.0 312.5 L570.0 320.5 L572.5 329.2 L574.5 339.2 L576.2 354.2 L578.8 366.8 L582.5 369.2 L586.2 370.5 L590.0 369.2 L592.5 366.8 L593.8 345.5 L594.5 323.0 L595.8 288.0 L598.0 283.0 L600.5 279.2 L603.0 282.5 L606.2 283.5 L608.8 291.8 L611.2 303.0 L613.8 320.0 L616.2 321.8 L618.8 320.5 L622.0 319.8 L623.8 325.5 L626.2 340.5 L628.0 355.5 L630.0 367.5 L633.8 369.2 L637.5 370.0 L641.2 368.5 L643.8 365.5 L645.0 345.5 L645.8 325.5 L647.5 286.8 L650.0 278.0 L653.8 273.0 L656.2 277.5 L658.8 279.2 L660.8 288.0 L663.0 298.0 L665.0 319.2 L667.5 321.0 L669.0 311.8 L670.8 320.5 L673.2 325.0 L675.8 329.2 L678.0 339.2 L680.0 353.0 L682.0 366.8 L685.0 368.5 L689.5 370.0 L693.8 368.5 L696.2 365.0 L697.5 328.0 L698.8 290.5 L701.2 285.0 L703.8 284.2 L706.2 279.8 L709.2 283.0 L712.5 286.0 L715.0 298.0 L717.5 315.0 L720.0 319.8 L723.0 321.2 L725.5 317.5 L727.5 326.8 L730.0 338.0 L732.0 353.0 L734.0 365.5 L737.5 368.5 L741.2 369.2 L745.0 368.8 L748.0 364.2 L749.5 343.0 L750.5 325.5 L751.8 300.5 L753.8 294.2 L757.5 290.5 L759.5 291.8 L761.8 290.5 L764.5 295.0 L767.0 304.2 L769.5 314.2 L772.5 313.8 L775.0 315.0 L777.5 320.5 L780.0 329.2 L782.5 338.0 L784.5 355.5 L786.2 366.8 L790.0 369.2 L793.8 370.5 L797.5 370.0 L800.0 366.8 L801.8 339.2 L803.8 319.2 L807.0 318.0 L809.5 311.8 L812.5 305.5 L815.0 308.0 L818.0 311.8 L820.5 320.5 L823.0 327.2 L825.5 316.8 L828.8 314.8 L831.2 320.5 L833.8 334.2 L836.2 350.5 L838.2 364.2 L842.5 368.0 L846.2 368.8 L850.0 367.5 L852.0 363.0 L853.0 343.0 L853.8 325.5 L855.5 290.5 L858.8 283.0 L862.5 278.0 L866.2 278.0 L868.8 280.5 L871.2 300.5 L873.8 315.5 L876.2 314.2 L879.2 313.0 L881.8 320.5 L884.5 326.8 L887.0 338.0 L888.8 353.0 L890.8 366.2 L893.8 368.5 L897.5 368.8 L902.0 367.5 L903.8 364.2 L905.0 343.0 L906.2 315.5 L907.5 309.2 L910.0 304.2 L912.5 299.2 L915.0 298.5 L918.2 300.0 L920.5 310.5 L923.0 318.0 L925.5 324.2 L928.0 314.2 L931.2 315.0 L933.8 325.5 L936.2 334.2 L938.2 338.0 L940.0 353.0 L942.0 366.8 L945.0 369.2 L948.8 370.0 L952.5 369.2 L955.0 366.0 L956.2 343.0 L957.5 326.8 L958.8 298.0 L960.0 286.8 L962.5 283.0 L964.2 285.5 L966.2 281.0 L968.8 286.8 L970.5 285.5 L973.0 291.8 L975.0 308.0 L976.5 321.8" fill="none" stroke="#ff0000" stroke-width="1" stroke-linejoin="round"/>
<g fill="#ff0000"><circle cx="43.5" cy="312.7" r="1.35"/><circle cx="45.7" cy="313.3" r="1.35"/><circle cx="47.8" cy="310.3" r="1.35"/><circle cx="50.0" cy="310.0" r="1.35"/><circle cx="52.2" cy="318.4" r="1.35"/><circle cx="54.3" cy="326.2" r="1.35"/><circle cx="56.5" cy="331.7" r="1.35"/><circle cx="58.7" cy="338.3" r="1.35"/><circle cx="60.8" cy="343.6" r="1.35"/><circle cx="63.0" cy="347.3" r="1.35"/><circle cx="65.2" cy="349.3" r="1.35"/><circle cx="67.3" cy="349.9" r="1.35"/><circle cx="69.5" cy="350.5" r="1.35"/><circle cx="71.7" cy="336.7" r="1.35"/><circle cx="73.8" cy="320.3" r="1.35"/><circle cx="76.0" cy="314.9" r="1.35"/><circle cx="78.2" cy="309.5" r="1.35"/><circle cx="80.3" cy="304.3" r="1.35"/><circle cx="82.5" cy="299.2" r="1.35"/><circle cx="84.7" cy="297.5" r="1.35"/><circle cx="86.8" cy="296.3" r="1.35"/><circle cx="89.0" cy="293.8" r="1.35"/><circle cx="91.2" cy="307.5" r="1.35"/><circle cx="93.3" cy="314.7" r="1.35"/><circle cx="95.5" cy="317.4" r="1.35"/><circle cx="97.7" cy="315.4" r="1.35"/><circle cx="99.8" cy="314.7" r="1.35"/><circle cx="102.0" cy="320.8" r="1.35"/><circle cx="104.2" cy="323.1" r="1.35"/><circle cx="106.3" cy="332.8" r="1.35"/><circle cx="108.5" cy="354.6" r="1.35"/><circle cx="110.7" cy="361.6" r="1.35"/><circle cx="112.8" cy="364.1" r="1.35"/><circle cx="115.0" cy="365.0" r="1.35"/><circle cx="117.2" cy="364.6" r="1.35"/><circle cx="119.3" cy="365.1" r="1.35"/><circle cx="121.5" cy="365.7" r="1.35"/><circle cx="123.7" cy="363.1" r="1.35"/><circle cx="125.8" cy="336.0" r="1.35"/><circle cx="128.0" cy="283.5" r="1.35"/><circle cx="130.2" cy="277.2" r="1.35"/><circle cx="132.3" cy="275.2" r="1.35"/><circle cx="134.5" cy="274.0" r="1.35"/><circle cx="136.7" cy="274.0" r="1.35"/><circle cx="138.8" cy="276.7" r="1.35"/><circle cx="141.0" cy="286.0" r="1.35"/><circle cx="143.2" cy="299.1" r="1.35"/><circle cx="145.3" cy="312.7" r="1.35"/><circle cx="147.5" cy="314.2" r="1.35"/><circle cx="149.7" cy="315.4" r="1.35"/><circle cx="151.8" cy="317.5" r="1.35"/><circle cx="154.0" cy="317.6" r="1.35"/><circle cx="156.2" cy="322.3" r="1.35"/><circle cx="158.3" cy="332.2" r="1.35"/><circle cx="160.5" cy="352.3" r="1.35"/><circle cx="162.7" cy="364.3" r="1.35"/><circle cx="164.8" cy="365.5" r="1.35"/><circle cx="167.0" cy="366.6" r="1.35"/><circle cx="169.2" cy="367.6" r="1.35"/><circle cx="171.3" cy="367.7" r="1.35"/><circle cx="173.5" cy="366.4" r="1.35"/><circle cx="175.7" cy="361.9" r="1.35"/><circle cx="177.8" cy="328.8" r="1.35"/><circle cx="180.0" cy="300.5" r="1.35"/><circle cx="182.2" cy="284.1" r="1.35"/><circle cx="184.3" cy="275.3" r="1.35"/><circle cx="186.5" cy="276.5" r="1.35"/><circle cx="188.7" cy="277.4" r="1.35"/><circle cx="190.8" cy="278.4" r="1.35"/><circle cx="193.0" cy="288.7" r="1.35"/><circle cx="195.2" cy="300.4" r="1.35"/><circle cx="197.3" cy="312.6" r="1.35"/><circle cx="199.5" cy="309.9" r="1.35"/><circle cx="201.7" cy="312.6" r="1.35"/><circle cx="203.8" cy="315.6" r="1.35"/><circle cx="206.0" cy="317.8" r="1.35"/><circle cx="208.2" cy="325.9" r="1.35"/><circle cx="210.3" cy="336.1" r="1.35"/><circle cx="212.5" cy="353.0" r="1.35"/><circle cx="214.7" cy="362.8" r="1.35"/><circle cx="216.8" cy="365.5" r="1.35"/><circle cx="219.0" cy="366.7" r="1.35"/><circle cx="221.2" cy="366.4" r="1.35"/><circle cx="223.3" cy="365.9" r="1.35"/><circle cx="225.5" cy="364.9" r="1.35"/><circle cx="227.7" cy="356.1" r="1.35"/><circle cx="229.8" cy="313.3" r="1.35"/><circle cx="232.0" cy="282.7" r="1.35"/><circle cx="234.2" cy="282.0" r="1.35"/><circle cx="236.3" cy="281.8" r="1.35"/><circle cx="238.5" cy="281.5" r="1.35"/><circle cx="240.7" cy="279.3" r="1.35"/><circle cx="242.8" cy="283.2" r="1.35"/><circle cx="245.0" cy="289.8" r="1.35"/><circle cx="247.2" cy="298.5" r="1.35"/><circle cx="249.3" cy="311.5" r="1.35"/><circle cx="251.5" cy="312.9" r="1.35"/><circle cx="253.7" cy="315.5" r="1.35"/><circle cx="255.8" cy="315.4" r="1.35"/><circle cx="258.0" cy="321.8" r="1.35"/><circle cx="260.2" cy="330.1" r="1.35"/><circle cx="262.3" cy="340.8" r="1.35"/><circle cx="264.5" cy="353.8" r="1.35"/><circle cx="266.7" cy="364.5" r="1.35"/><circle cx="268.8" cy="366.0" r="1.35"/><circle cx="271.0" cy="367.0" r="1.35"/><circle cx="273.2" cy="367.5" r="1.35"/><circle cx="275.3" cy="367.8" r="1.35"/><circle cx="277.5" cy="366.3" r="1.35"/><circle cx="279.7" cy="356.3" r="1.35"/><circle cx="281.8" cy="312.9" r="1.35"/><circle cx="284.0" cy="283.5" r="1.35"/><circle cx="286.2" cy="275.1" r="1.35"/><circle cx="288.3" cy="270.4" r="1.35"/><circle cx="290.5" cy="270.1" r="1.35"/><circle cx="292.7" cy="272.4" r="1.35"/><circle cx="294.8" cy="277.2" r="1.35"/><circle cx="297.0" cy="283.0" r="1.35"/><circle cx="299.2" cy="291.7" r="1.35"/><circle cx="301.3" cy="307.7" r="1.35"/><circle cx="303.5" cy="312.7" r="1.35"/><circle cx="305.7" cy="310.7" r="1.35"/><circle cx="307.8" cy="308.3" r="1.35"/><circle cx="310.0" cy="310.5" r="1.35"/><circle cx="312.2" cy="318.1" r="1.35"/><circle cx="314.3" cy="325.7" r="1.35"/><circle cx="316.5" cy="345.2" r="1.35"/><circle cx="318.7" cy="362.4" r="1.35"/><circle cx="320.8" cy="367.4" r="1.35"/><circle cx="323.0" cy="368.1" r="1.35"/><circle cx="325.2" cy="368.4" r="1.35"/><circle cx="327.3" cy="367.9" r="1.35"/><circle cx="329.5" cy="366.1" r="1.35"/><circle cx="331.7" cy="356.3" r="1.35"/><circle cx="333.8" cy="317.6" r="1.35"/><circle cx="336.0" cy="307.7" r="1.35"/><circle cx="338.2" cy="295.6" r="1.35"/><circle cx="340.3" cy="282.7" r="1.35"/><circle cx="342.5" cy="280.5" r="1.35"/><circle cx="344.7" cy="277.7" r="1.35"/><circle cx="346.8" cy="279.8" r="1.35"/><circle cx="349.0" cy="286.6" r="1.35"/><circle cx="351.2" cy="296.4" r="1.35"/><circle cx="353.3" cy="311.4" r="1.35"/><circle cx="355.5" cy="319.1" r="1.35"/><circle cx="357.7" cy="313.8" r="1.35"/><circle cx="359.8" cy="309.9" r="1.35"/><circle cx="362.0" cy="314.3" r="1.35"/><circle cx="364.2" cy="323.4" r="1.35"/><circle cx="366.3" cy="332.4" r="1.35"/><circle cx="368.5" cy="348.7" r="1.35"/><circle cx="370.7" cy="366.8" r="1.35"/><circle cx="372.8" cy="367.6" r="1.35"/><circle cx="375.0" cy="368.2" r="1.35"/><circle cx="377.2" cy="368.5" r="1.35"/><circle cx="379.3" cy="368.3" r="1.35"/><circle cx="381.5" cy="367.7" r="1.35"/><circle cx="383.7" cy="365.1" r="1.35"/><circle cx="385.8" cy="324.1" r="1.35"/><circle cx="388.0" cy="249.2" r="1.35"/><circle cx="390.2" cy="160.1" r="1.35"/><circle cx="392.3" cy="242.5" r="1.35"/><circle cx="394.5" cy="291.5" r="1.35"/><circle cx="396.7" cy="291.5" r="1.35"/><circle cx="398.8" cy="292.5" r="1.35"/><circle cx="401.0" cy="298.3" r="1.35"/><circle cx="403.2" cy="307.3" r="1.35"/><circle cx="405.3" cy="316.8" r="1.35"/><circle cx="407.5" cy="321.9" r="1.35"/><circle cx="409.7" cy="317.6" r="1.35"/><circle cx="411.8" cy="319.1" r="1.35"/><circle cx="414.0" cy="323.4" r="1.35"/><circle cx="416.2" cy="328.4" r="1.35"/><circle cx="418.3" cy="338.2" r="1.35"/><circle cx="420.5" cy="353.0" r="1.35"/><circle cx="422.7" cy="364.9" r="1.35"/><circle cx="424.8" cy="368.2" r="1.35"/><circle cx="427.0" cy="369.4" r="1.35"/><circle cx="429.2" cy="369.8" r="1.35"/><circle cx="431.3" cy="369.7" r="1.35"/><circle cx="433.5" cy="369.3" r="1.35"/><circle cx="435.7" cy="367.3" r="1.35"/><circle cx="437.8" cy="352.0" r="1.35"/><circle cx="440.0" cy="323.3" r="1.35"/><circle cx="442.2" cy="303.7" r="1.35"/><circle cx="444.3" cy="284.6" r="1.35"/><circle cx="446.5" cy="265.6" r="1.35"/><circle cx="448.7" cy="284.9" r="1.35"/><circle cx="450.8" cy="298.2" r="1.35"/><circle cx="453.0" cy="303.6" r="1.35"/><circle cx="455.2" cy="311.9" r="1.35"/><circle cx="457.3" cy="320.7" r="1.35"/><circle cx="459.5" cy="326.6" r="1.35"/><circle cx="461.7" cy="319.4" r="1.35"/><circle cx="463.8" cy="316.5" r="1.35"/><circle cx="466.0" cy="321.5" r="1.35"/><circle cx="468.2" cy="330.5" r="1.35"/><circle cx="470.3" cy="341.8" r="1.35"/><circle cx="472.5" cy="357.0" r="1.35"/><circle cx="474.7" cy="368.1" r="1.35"/><circle cx="476.8" cy="369.0" r="1.35"/><circle cx="479.0" cy="369.2" r="1.35"/><circle cx="481.2" cy="369.2" r="1.35"/><circle cx="483.3" cy="368.8" r="1.35"/><circle cx="485.5" cy="368.3" r="1.35"/><circle cx="487.7" cy="367.6" r="1.35"/><circle cx="489.8" cy="351.9" r="1.35"/><circle cx="492.0" cy="332.5" r="1.35"/><circle cx="494.2" cy="329.7" r="1.35"/><circle cx="496.3" cy="322.8" r="1.35"/><circle cx="498.5" cy="322.3" r="1.35"/><circle cx="500.7" cy="325.0" r="1.35"/><circle cx="502.8" cy="325.9" r="1.35"/><circle cx="505.0" cy="324.8" r="1.35"/><circle cx="507.2" cy="324.0" r="1.35"/><circle cx="509.3" cy="320.2" r="1.35"/><circle cx="511.5" cy="319.2" r="1.35"/><circle cx="513.7" cy="318.5" r="1.35"/><circle cx="515.8" cy="318.1" r="1.35"/><circle cx="518.0" cy="320.6" r="1.35"/><circle cx="520.2" cy="323.5" r="1.35"/><circle cx="522.3" cy="330.0" r="1.35"/><circle cx="524.5" cy="351.2" r="1.35"/><circle cx="526.7" cy="364.7" r="1.35"/><circle cx="528.8" cy="366.8" r="1.35"/><circle cx="531.0" cy="368.5" r="1.35"/><circle cx="533.2" cy="369.7" r="1.35"/><circle cx="535.3" cy="369.2" r="1.35"/><circle cx="537.5" cy="368.0" r="1.35"/><circle cx="539.7" cy="364.7" r="1.35"/><circle cx="541.8" cy="332.8" r="1.35"/><circle cx="544.0" cy="291.8" r="1.35"/><circle cx="546.2" cy="282.1" r="1.35"/><circle cx="548.3" cy="277.7" r="1.35"/><circle cx="550.5" cy="274.7" r="1.35"/><circle cx="552.7" cy="274.6" r="1.35"/><circle cx="554.8" cy="278.3" r="1.35"/><circle cx="557.0" cy="283.1" r="1.35"/><circle cx="559.2" cy="297.0" r="1.35"/><circle cx="561.3" cy="314.6" r="1.35"/><circle cx="563.5" cy="320.6" r="1.35"/><circle cx="565.7" cy="315.8" r="1.35"/><circle cx="567.8" cy="312.7" r="1.35"/><circle cx="570.0" cy="320.5" r="1.35"/><circle cx="572.2" cy="328.1" r="1.35"/><circle cx="574.3" cy="338.5" r="1.35"/><circle cx="576.5" cy="355.5" r="1.35"/><circle cx="578.7" cy="366.4" r="1.35"/><circle cx="580.8" cy="368.1" r="1.35"/><circle cx="583.0" cy="369.4" r="1.35"/><circle cx="585.2" cy="370.1" r="1.35"/><circle cx="587.3" cy="370.1" r="1.35"/><circle cx="589.5" cy="369.4" r="1.35"/><circle cx="591.7" cy="367.6" r="1.35"/><circle cx="593.8" cy="342.7" r="1.35"/><circle cx="596.0" cy="287.4" r="1.35"/><circle cx="598.2" cy="282.7" r="1.35"/><circle cx="600.3" cy="279.5" r="1.35"/><circle cx="602.5" cy="281.9" r="1.35"/><circle cx="604.7" cy="283.0" r="1.35"/><circle cx="606.8" cy="285.5" r="1.35"/><circle cx="609.0" cy="292.9" r="1.35"/><circle cx="611.2" cy="302.7" r="1.35"/><circle cx="613.3" cy="317.2" r="1.35"/><circle cx="615.5" cy="321.2" r="1.35"/><circle cx="617.7" cy="321.0" r="1.35"/><circle cx="619.8" cy="320.2" r="1.35"/><circle cx="622.0" cy="319.8" r="1.35"/><circle cx="624.2" cy="328.1" r="1.35"/><circle cx="626.3" cy="341.3" r="1.35"/><circle cx="628.5" cy="358.6" r="1.35"/><circle cx="630.7" cy="367.8" r="1.35"/><circle cx="632.8" cy="368.8" r="1.35"/><circle cx="635.0" cy="369.5" r="1.35"/><circle cx="637.2" cy="369.9" r="1.35"/><circle cx="639.3" cy="369.3" r="1.35"/><circle cx="641.5" cy="368.2" r="1.35"/><circle cx="643.7" cy="365.6" r="1.35"/><circle cx="645.8" cy="323.4" r="1.35"/><circle cx="648.0" cy="285.0" r="1.35"/><circle cx="650.2" cy="277.8" r="1.35"/><circle cx="652.3" cy="274.9" r="1.35"/><circle cx="654.5" cy="274.4" r="1.35"/><circle cx="656.7" cy="277.8" r="1.35"/><circle cx="658.8" cy="279.7" r="1.35"/><circle cx="661.0" cy="289.2" r="1.35"/><circle cx="663.2" cy="299.9" r="1.35"/><circle cx="665.3" cy="319.5" r="1.35"/><circle cx="667.5" cy="320.9" r="1.35"/><circle cx="669.7" cy="315.1" r="1.35"/><circle cx="671.8" cy="322.5" r="1.35"/><circle cx="674.0" cy="326.3" r="1.35"/><circle cx="676.2" cy="331.1" r="1.35"/><circle cx="678.3" cy="341.6" r="1.35"/><circle cx="680.5" cy="356.5" r="1.35"/><circle cx="682.7" cy="367.1" r="1.35"/><circle cx="684.8" cy="368.4" r="1.35"/><circle cx="687.0" cy="369.2" r="1.35"/><circle cx="689.2" cy="369.9" r="1.35"/><circle cx="691.3" cy="369.3" r="1.35"/><circle cx="693.5" cy="368.6" r="1.35"/><circle cx="695.7" cy="365.8" r="1.35"/><circle cx="697.8" cy="317.7" r="1.35"/><circle cx="700.0" cy="287.7" r="1.35"/><circle cx="702.2" cy="284.7" r="1.35"/><circle cx="704.3" cy="283.2" r="1.35"/><circle cx="706.5" cy="280.0" r="1.35"/><circle cx="708.7" cy="282.4" r="1.35"/><circle cx="710.8" cy="284.5" r="1.35"/><circle cx="713.0" cy="288.4" r="1.35"/><circle cx="715.2" cy="299.2" r="1.35"/><circle cx="717.3" cy="313.9" r="1.35"/><circle cx="719.5" cy="318.8" r="1.35"/><circle cx="721.7" cy="320.6" r="1.35"/><circle cx="723.8" cy="320.0" r="1.35"/><circle cx="726.0" cy="319.9" r="1.35"/><circle cx="728.2" cy="329.8" r="1.35"/><circle cx="730.3" cy="340.6" r="1.35"/><circle cx="732.5" cy="356.2" r="1.35"/><circle cx="734.7" cy="366.1" r="1.35"/><circle cx="736.8" cy="367.9" r="1.35"/><circle cx="739.0" cy="368.8" r="1.35"/><circle cx="741.2" cy="369.2" r="1.35"/><circle cx="743.3" cy="369.0" r="1.35"/><circle cx="745.5" cy="368.0" r="1.35"/><circle cx="747.7" cy="364.7" r="1.35"/><circle cx="749.8" cy="337.0" r="1.35"/><circle cx="752.0" cy="299.7" r="1.35"/><circle cx="754.2" cy="293.8" r="1.35"/><circle cx="756.3" cy="291.7" r="1.35"/><circle cx="758.5" cy="291.1" r="1.35"/><circle cx="760.7" cy="291.1" r="1.35"/><circle cx="762.8" cy="292.3" r="1.35"/><circle cx="765.0" cy="296.9" r="1.35"/><circle cx="767.2" cy="305.0" r="1.35"/><circle cx="769.3" cy="313.6" r="1.35"/><circle cx="771.5" cy="313.9" r="1.35"/><circle cx="773.7" cy="314.3" r="1.35"/><circle cx="775.8" cy="316.9" r="1.35"/><circle cx="778.0" cy="322.3" r="1.35"/><circle cx="780.2" cy="329.9" r="1.35"/><circle cx="782.3" cy="337.5" r="1.35"/><circle cx="784.5" cy="355.6" r="1.35"/><circle cx="786.7" cy="367.0" r="1.35"/><circle cx="788.8" cy="368.5" r="1.35"/><circle cx="791.0" cy="369.6" r="1.35"/><circle cx="793.2" cy="370.3" r="1.35"/><circle cx="795.3" cy="370.3" r="1.35"/><circle cx="797.5" cy="370.0" r="1.35"/><circle cx="799.7" cy="367.2" r="1.35"/><circle cx="801.8" cy="338.3" r="1.35"/><circle cx="804.0" cy="319.1" r="1.35"/><circle cx="806.2" cy="318.3" r="1.35"/><circle cx="808.3" cy="314.6" r="1.35"/><circle cx="810.5" cy="309.6" r="1.35"/><circle cx="812.7" cy="305.7" r="1.35"/><circle cx="814.8" cy="307.8" r="1.35"/><circle cx="817.0" cy="310.5" r="1.35"/><circle cx="819.2" cy="315.9" r="1.35"/><circle cx="821.3" cy="322.8" r="1.35"/><circle cx="823.5" cy="325.1" r="1.35"/><circle cx="825.7" cy="316.6" r="1.35"/><circle cx="827.8" cy="315.3" r="1.35"/><circle cx="830.0" cy="317.7" r="1.35"/><circle cx="832.2" cy="325.6" r="1.35"/><circle cx="834.3" cy="338.1" r="1.35"/><circle cx="836.5" cy="352.3" r="1.35"/><circle cx="838.7" cy="364.6" r="1.35"/><circle cx="840.8" cy="366.5" r="1.35"/><circle cx="843.0" cy="368.1" r="1.35"/><circle cx="845.2" cy="368.5" r="1.35"/><circle cx="847.3" cy="368.4" r="1.35"/><circle cx="849.5" cy="367.7" r="1.35"/><circle cx="851.7" cy="363.7" r="1.35"/><circle cx="853.8" cy="323.6" r="1.35"/><circle cx="856.0" cy="289.3" r="1.35"/><circle cx="858.2" cy="284.3" r="1.35"/><circle cx="860.3" cy="280.9" r="1.35"/><circle cx="862.5" cy="278.0" r="1.35"/><circle cx="864.7" cy="278.0" r="1.35"/><circle cx="866.8" cy="278.6" r="1.35"/><circle cx="869.0" cy="282.6" r="1.35"/><circle cx="871.2" cy="299.9" r="1.35"/><circle cx="873.3" cy="313.1" r="1.35"/><circle cx="875.5" cy="314.6" r="1.35"/><circle cx="877.7" cy="313.7" r="1.35"/><circle cx="879.8" cy="314.8" r="1.35"/><circle cx="882.0" cy="321.1" r="1.35"/><circle cx="884.2" cy="326.0" r="1.35"/><circle cx="886.3" cy="335.1" r="1.35"/><circle cx="888.5" cy="351.0" r="1.35"/><circle cx="890.7" cy="365.8" r="1.35"/><circle cx="892.8" cy="367.8" r="1.35"/><circle cx="895.0" cy="368.6" r="1.35"/><circle cx="897.2" cy="368.7" r="1.35"/><circle cx="899.3" cy="368.2" r="1.35"/><circle cx="901.5" cy="367.6" r="1.35"/><circle cx="903.7" cy="364.4" r="1.35"/><circle cx="905.8" cy="324.4" r="1.35"/><circle cx="908.0" cy="308.2" r="1.35"/><circle cx="910.2" cy="303.9" r="1.35"/><circle cx="912.3" cy="299.6" r="1.35"/><circle cx="914.5" cy="298.6" r="1.35"/><circle cx="916.7" cy="299.3" r="1.35"/><circle cx="918.8" cy="302.8" r="1.35"/><circle cx="921.0" cy="312.0" r="1.35"/><circle cx="923.2" cy="318.5" r="1.35"/><circle cx="925.3" cy="323.9" r="1.35"/><circle cx="927.5" cy="316.2" r="1.35"/><circle cx="929.7" cy="314.6" r="1.35"/><circle cx="931.8" cy="317.5" r="1.35"/><circle cx="934.0" cy="326.4" r="1.35"/><circle cx="936.2" cy="334.0" r="1.35"/><circle cx="938.3" cy="338.8" r="1.35"/><circle cx="940.5" cy="356.5" r="1.35"/><circle cx="942.7" cy="367.3" r="1.35"/><circle cx="944.8" cy="369.1" r="1.35"/><circle cx="947.0" cy="369.7" r="1.35"/><circle cx="949.2" cy="369.9" r="1.35"/><circle cx="951.3" cy="369.5" r="1.35"/><circle cx="953.5" cy="367.9" r="1.35"/><circle cx="955.7" cy="353.5" r="1.35"/><circle cx="957.8" cy="318.8" r="1.35"/><circle cx="960.0" cy="286.7" r="1.35"/><circle cx="962.2" cy="283.5" r="1.35"/><circle cx="964.3" cy="285.3" r="1.35"/><circle cx="966.5" cy="281.6" r="1.35"/><circle cx="968.7" cy="286.6" r="1.35"/><circle cx="970.8" cy="286.4" r="1.35"/><circle cx="973.0" cy="291.9" r="1.35"/><circle cx="975.2" cy="309.7" r="1.35"/></g>
<g font-family="Liberation Sans, sans-serif" font-size="8" fill="#666a70" text-anchor="end">
<text x="32" y="153.2">1</text>
<text x="32" y="197.2">0.8</text>
<text x="32" y="241.2">0.6</text>
<text x="32" y="285.2">0.4</text>
<text x="32" y="329.2">0.2</text>
<text x="32" y="373.2">0</text>
</g>
<g font-family="Liberation Sans, sans-serif" font-size="8.2" fill="#666a70" text-anchor="middle">
<text transform="translate(69.5 390) scale(0.915 1)">14. Feb</text>
<text transform="translate(121.5 390) scale(0.915 1)">15. Feb</text>
<text transform="translate(173.5 390) scale(0.915 1)">16. Feb</text>
<text transform="translate(225.5 390) scale(0.915 1)">17. Feb</text>
<text transform="translate(277.5 390) scale(0.915 1)">18. Feb</text>
<text transform="translate(329.5 390) scale(0.915 1)">19. Feb</text>
<text transform="translate(381.5 390) scale(0.915 1)">20. Feb</text>
<text transform="translate(433.5 390) scale(0.915 1)">21. Feb</text>
<text transform="translate(485.5 390) scale(0.915 1)">22. Feb</text>
<text transform="translate(537.5 390) scale(0.915 1)">23. Feb</text>
<text transform="translate(589.5 390) scale(0.915 1)">24. Feb</text>
<text transform="translate(641.5 390) scale(0.915 1)">25. Feb</text>
<text transform="translate(693.5 390) scale(0.915 1)">26. Feb</text>
<text transform="translate(745.5 390) scale(0.915 1)">27. Feb</text>
<text transform="translate(797.5 390) scale(0.915 1)">28. Feb</text>
<text transform="translate(849.5 390) scale(0.915 1)">1. Mar</text>
<text transform="translate(901.5 390) scale(0.915 1)">2. Mar</text>
<text transform="translate(953.5 390) scale(0.915 1)">3. Mar</text>
<text transform="translate(512.6 404) scale(0.93 1)" font-size="8.6">Time (UTC)</text>
</g>
<g font-family="Liberation Sans, sans-serif" font-size="9.4" font-weight="bold" fill="#2b2b2b">
<path d="M309 417.5 H320.5" stroke="#2a7ab8" stroke-width="1"/><circle cx="314.7" cy="417.5" r="1.1" fill="#2a7ab8"/>
<text x="325" y="420.9" textLength="105" lengthAdjust="spacingAndGlyphs">Active Probing (# /24s Up)</text>
<path d="M445 417.5 H456.5" stroke="#2fb84a" stroke-width="1"/><path d="M450.7 416 l1.3 2.2 h-2.6z" fill="#25a63c"/>
<text x="461" y="420.9" textLength="80" lengthAdjust="spacingAndGlyphs">BGP (# Visible /24s)</text>
<path d="M555.5 417.5 H567.3" stroke="#ff0000" stroke-width="1"/><rect x="560.3" y="416.4" width="2.2" height="2.2" fill="#ff0000"/>
<text x="571.5" y="420.9" textLength="121" lengthAdjust="spacingAndGlyphs">Darknet (# Unique Source IPs)</text>
</g>
</svg>

<!-- controls -->
<div class="btn" style="left:378px;top:69px;width:136.5px;height:18px;border-radius:3px;"></div>
<div class="btn" style="left:378px;top:69px;width:41.5px;height:18px;border-radius:3px 0 0 3px;background:#74898b;"></div>
<svg class="abs" style="left:378px;top:69px;" width="137" height="18" viewBox="0 0 137 18">
  <g fill="#fff" stroke="none">
    <!-- line icon -->
    <path d="M5.2 4.6 h1 v7.6 h8.6 v1 h-9.6z"/>
    <path d="M7 11 l3 -3.2 l1.8 1.6 l2.2 -2.6 l-0.9 -0.8 h2.6 v2.6 l-0.9 -0.9 l-2.9 3.4 l-1.8 -1.6 l-2.2 2.4z"/>
    <!-- area icon -->
    <path d="M46.2 4.6 h1 v7.6 h8.8 v1 h-9.8z"/>
    <path d="M47.8 11.6 v-3 l2.4 -3.2 l2.2 2.4 l1.6 -1.2 l1.8 3.2 v1.8z"/>
    <!-- bar icon -->
    <path d="M103.2 4.6 h1 v7.6 h8.6 v1 h-9.6z"/>
    <path d="M105.2 8.4 h1.3 v3.2 h-1.3z M107.4 5.6 h1.3 v6 h-1.3z M109.6 7 h1.3 v4.6 h-1.3z M111.6 5 h1.1 v6.6 h-1.1z"/>
  </g>
  <g font-family="Liberation Sans, sans-serif" font-size="9.8" fill="#fff">
    <text x="18.6" y="11.9" textLength="18.2" lengthAdjust="spacingAndGlyphs">Line</text>
    <text x="59.4" y="11.9" textLength="33.8" lengthAdjust="spacingAndGlyphs" fill="#f2f5f5">Stacked</text>
    <text x="116" y="11.9" textLength="14.6" lengthAdjust="spacingAndGlyphs" fill="#f2f5f5">Bar</text>
  </g>
</svg>

<div class="abs it" id="sortlbl" style="transform:scaleX(0.849);left:524.5px;top:55.5px;">Sort series by:</div>
<div class="sel" style="left:522.5px;top:71px;width:60px;height:14px;"><span style="position:absolute;left:5px;top:0.5px;">Name</span>
  <svg style="position:absolute;right:2.2px;top:3.7px;" width="8" height="6" viewBox="0 0 8 6"><path d="M0.8 1 L4 4.3 L7.2 1" fill="none" stroke="#222" stroke-width="1"/></svg></div>
<div class="btn" style="left:585px;top:71px;width:31px;height:14px;border-radius:2.5px;"></div>
<div class="btn" style="left:599.6px;top:71px;width:16.4px;height:14px;border-radius:0 2.5px 2.5px 0;background:#7b8f90;"></div>
<svg class="abs" style="left:585px;top:71px;" width="31" height="14" viewBox="0 0 31 14">
  <path d="M6.9 3.9 h2 v2.4 h1.8 l-2.8 3 l-2.8 -3 h1.8z" fill="#fff"/>
  <path d="M22.3 9.7 h2 v-2.4 h1.8 l-2.8 -3 l-2.8 3 h1.8z" fill="#fff"/>
</svg>

<div class="abs it" id="movelbl" style="transform:scaleX(0.870);left:625.7px;top:55.5px;">Move to <span style="color:#b5561f;">secondary Y</span> axis:</div>
<div class="btn" style="left:625.7px;top:69px;width:188.2px;height:18.2px;border-radius:2.5px;"></div>
<div class="abs" id="selser" style="transform:scaleX(0.873);left:631px;top:70.9px;font-size:10.5px;line-height:13px;color:#f4f6f6;">Select series</div>
<svg class="abs" style="left:797.5px;top:75.5px;" width="8" height="5" viewBox="0 0 8 5"><path d="M0.6 0.6 H7.4 L4 4.4Z" fill="#fff"/></svg>

<div class="abs it" id="tpalbl" style="transform:scaleX(0.879);left:820.5px;top:55.5px;">Time point aggregation:</div>
<div class="sel" style="left:820.4px;top:71.3px;width:38px;height:13.3px;"><span style="position:absolute;left:5px;top:0.1px;">Avg</span>
  <svg style="position:absolute;right:2px;top:3.2px;" width="8" height="6" viewBox="0 0 8 6"><path d="M0.8 1 L4 4.3 L7.2 1" fill="none" stroke="#222" stroke-width="1"/></svg></div>
<div class="abs" id="ofpts" style="transform:scaleX(0.877);left:860.7px;top:72.4px;font-size:7.3px;line-height:10px;color:#263256;">of 5 pts/px (an hour)</div>

<div class="abs it" id="yzlbl" style="transform:scaleX(0.834);left:925px;top:55.5px;">Y axis zoom:</div>
<div class="abs" style="left:924.7px;top:72.2px;width:45.2px;height:11.5px;border-radius:3px;background:linear-gradient(#3f72d8,#2746a6);overflow:hidden;box-shadow:0 0 0 0.5px #24409a inset;">
  <div style="position:absolute;right:0;top:0;width:12px;height:11.5px;background:linear-gradient(#98a4a5,#7e8b8c);"></div>
  <div id="auto" style="transform:scaleX(0.951);position:absolute;left:8px;top:0.8px;font-size:9px;line-height:11.5px;color:#fff;transform-origin:0 0;white-space:nowrap;">Auto</div>
</div>

<div class="abs hint" id="hint" style="transform:scaleX(0.916);left:791.2px;top:92.5px;">click series to toggle on/off, dbl-click to solo (<a>toggle all</a>)</div>

<!-- fake scrollbar -->
<div class="abs" style="left:977.2px;top:53px;width:10.6px;height:370.5px;background:#f1f1f1;"></div>
<div class="abs" style="left:978.2px;top:64px;width:8.6px;height:347.7px;background:#c1c1c1;"></div>
<svg class="abs" style="left:977.2px;top:53px;" width="11" height="371" viewBox="0 0 11 371">
  <path d="M3 6.6 L5.4 4.2 L7.8 6.6Z" fill="#505050"/>
  <path d="M3 363.4 L5.4 366 L7.8 363.4Z" fill="#505050"/>
</svg>

<!-- footer -->
<div class="abs foot" id="foot" style="transform:scaleX(0.926);left:13.5px;top:424.5px;"># Series: <i>3</i> <span style="color:#7a8fb5">|</span> # Points: <i>3450</i> <span style="color:#7a8fb5">|</span> Data resolution: <i class="b">10 minutes, hour</i></div>
<div class="help" style="left:268.7px;top:424.6px;">?</div>
<div class="abs it" id="range" style="transform:scaleX(0.905);left:765.5px;top:425.2px;font-size:10.2px;">February 13, 2021 12:00pm - March 3, 2021 1:00pm</div>
<div class="abs" style="left:25px;top:437px;width:951.5px;height:1px;background:#e6e6e6;"></div>
</body>
</html>
